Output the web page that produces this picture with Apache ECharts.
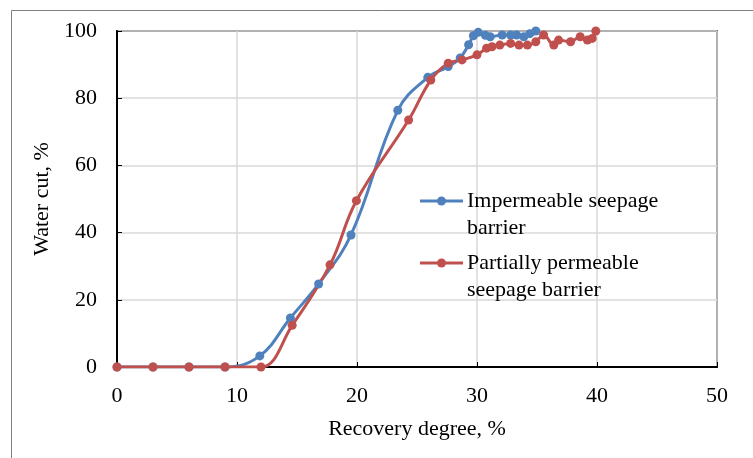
<!DOCTYPE html>
<html>
<head>
<meta charset="utf-8">
<script src="https://cdn.jsdelivr.net/npm/echarts@6/dist/echarts.min.js"></script>
<style>
  html, body { margin: 0; padding: 0; background: #fff; }
  #chart { width: 753px; height: 458px; }
</style>
</head>
<body>
<div id="chart"></div>
<script>
// series names (legend wraps onto two lines)
const seriesNames = ['Impermeable seepage\nbarrier', 'Partially permeable\nseepage barrier'];
const seriesColors = ['#4f81bd', '#c0504d'];

// impermeable barrier: recovery degree (%) / water cut (%)
const blueX = [0, 3, 6, 9, 11.9, 14.45, 16.8, 19.5, 23.4, 25.9, 27.6, 28.6, 29.3, 29.7, 30.1, 30.7, 31.1, 32.1, 32.8, 33.3, 33.9, 34.4, 34.9];
const blueY = [0, 0, 0, 0, 3.3, 14.6, 24.7, 39.3, 76.4, 86.2, 89.4, 92.0, 95.9, 98.6, 99.6, 98.7, 98.3, 98.8, 98.8, 98.8, 98.3, 99.2, 100];

// partially permeable barrier
const redX = [0, 3, 6, 9, 12, 14.6, 17.75, 19.95, 24.3, 26.15, 27.6, 28.75, 30.0, 30.8, 31.25, 31.9, 32.8, 33.5, 34.2, 34.9, 35.55, 36.4, 36.8, 37.8, 38.6, 39.2, 39.6, 39.9];
const redY = [0, 0, 0, 0, 0, 12.4, 30.4, 49.5, 73.5, 85.4, 90.4, 91.4, 92.9, 94.9, 95.3, 95.8, 96.3, 95.8, 95.8, 96.8, 98.8, 95.8, 97.3, 96.8, 98.3, 97.3, 97.8, 100];

// axis ranges
const xRange = [0, 50, 10];
const yRange = [0, 100, 20];

const FONT = 'Liberation Serif';

function pairs(xs, ys) {
  return xs.map((x, i) => [x, ys[i]]);
}

function legendItem(y, i) {
  return [
    { type: 'line', shape: { x1: 420, y1: y, x2: 463, y2: y }, style: { stroke: seriesColors[i], lineWidth: 3 }, z: 100 },
    { type: 'circle', shape: { cx: 441.5, cy: y, r: 4.5 }, style: { fill: seriesColors[i] }, z: 100 },
    { type: 'text', x: 467, y: y - 13.5, z: 100,
      style: { text: seriesNames[i], font: '22px "' + FONT + '"', fill: '#000', lineHeight: 27, verticalAlign: 'top' } }
  ];
}

const chart = echarts.init(document.getElementById('chart'), null, { renderer: 'canvas' });

chart.setOption({
  animation: false,
  backgroundColor: '#fff',
  textStyle: { fontFamily: FONT },
  grid: {
    left: 117, right: 36, top: 31, bottom: 91,
    show: true, borderColor: '#000', borderWidth: 1.5
  },
  xAxis: {
    type: 'value',
    min: xRange[0], max: xRange[1], interval: xRange[2],
    name: 'Recovery degree, %',
    nameLocation: 'middle',
    nameGap: 51,
    nameTextStyle: { fontSize: 22, color: '#000', fontFamily: FONT },
    axisLine: { lineStyle: { color: '#000', width: 2 } },
    axisTick: { inside: true, length: 5, lineStyle: { color: '#000' } },
    axisLabel: { fontSize: 22, color: '#000', margin: 18, fontFamily: FONT },
    splitLine: { show: true, lineStyle: { color: '#d9d9d9', width: 1.5 } }
  },
  yAxis: {
    type: 'value',
    min: yRange[0], max: yRange[1], interval: yRange[2],
    name: 'Water cut, %',
    nameLocation: 'middle',
    nameGap: 58,
    nameTextStyle: { fontSize: 22, color: '#000', fontFamily: FONT },
    axisLine: { show: true, lineStyle: { color: '#000', width: 2 } },
    axisTick: { show: true, inside: true, length: 5, lineStyle: { color: '#000' } },
    axisLabel: { fontSize: 22, color: '#000', margin: 20, fontFamily: FONT },
    splitLine: { show: true, lineStyle: { color: '#d9d9d9', width: 1.5 } }
  },
  series: [
    {
      name: seriesNames[0],
      type: 'line',
      data: pairs(blueX, blueY),
      smooth: 0.4,
      symbol: 'circle',
      symbolSize: 9,
      lineStyle: { color: seriesColors[0], width: 3 },
      itemStyle: { color: seriesColors[0] }
    },
    {
      name: seriesNames[1],
      type: 'line',
      data: pairs(redX, redY),
      smooth: 0.4,
      symbol: 'circle',
      symbolSize: 9,
      lineStyle: { color: seriesColors[1], width: 3 },
      itemStyle: { color: seriesColors[1] }
    }
  ],
  graphic: [
    // outer frame of the figure
    { type: 'rect', shape: { x: 11.5, y: 10.5, width: 800, height: 500 },
      style: { fill: null, stroke: '#7f7f7f', lineWidth: 1 }, z: -1, silent: true }
  ].concat(legendItem(201, 0), legendItem(263, 1))
});
</script>
</body>
</html>
